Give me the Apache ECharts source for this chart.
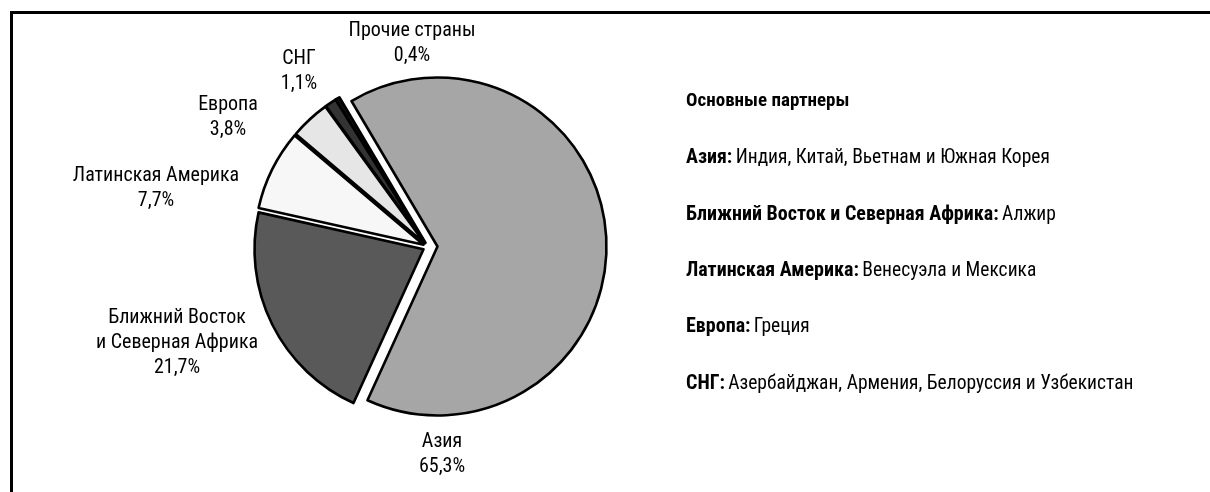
<!DOCTYPE html>
<html>
<head>
<meta charset="utf-8">
<script src="https://cdn.jsdelivr.net/npm/echarts@6/dist/echarts.min.js"></script>
<style>
html,body{margin:0;padding:0;background:#fff;}
#c{width:1210px;height:492px;}
</style>
</head>
<body>
<div id="c"></div>
<script>
// ---- data ----
const categories = ['Азия', 'Ближний Восток\nи Северная Африка', 'Латинская Америка', 'Европа', 'СНГ', 'Прочие страны'];
const shares = [65.3, 21.7, 7.7, 3.8, 1.1, 0.4];
const shareLabels = ['65,3%', '21,7%', '7,7%', '3,8%', '1,1%', '0,4%'];
const partnersTitle = 'Основные партнеры';
const partnerRegions = ['Азия:', 'Ближний Восток и Северная Африка:', 'Латинская Америка:', 'Европа:', 'СНГ:'];
const partnerCountries = ['Индия, Китай, Вьетнам и Южная Корея', 'Алжир', 'Венесуэла и Мексика', 'Греция', 'Азербайджан, Армения, Белоруссия и Узбекистан'];

// ---- styles / layout ----
const FONT = '"Roboto Condensed", "Open Sans Condensed", sans-serif';
const colors = ['#a6a6a6', '#595959', '#f7f7f7', '#e6e6e6', '#333333', '#111111'];
const pieCenter = [428, 247];
const pieRadius = 169;
const startAngle = 120.6;
// label block centres, relative to the pie centre
const labelOffsets = [[14, 207], [-251, 96], [-272, -59], [-200, -130], [-129, -176], [-16, -204]];
const legendX = 686;
const legendY = [101, 158, 215, 271, 327, 384];

const chart = echarts.init(document.getElementById('c'), null, {renderer: 'canvas'});

function pieSeries(visibleSet, offset) {
  return {
    type: 'pie',
    center: pieCenter,
    radius: pieRadius,
    startAngle: startAngle,
    clockwise: true,
    silent: true,
    animation: false,
    selectedMode: 'multiple',
    selectedOffset: offset,
    emphasis: {disabled: true},
    label: {show: false},
    labelLine: {show: false},
    data: shares.map((v, i) => {
      const vis = visibleSet.includes(i);
      return {
        value: v,
        name: categories[i],
        selected: vis,
        itemStyle: vis ? {color: colors[i], borderColor: '#000', borderWidth: 2.6} : {color: 'rgba(0,0,0,0)', borderWidth: 0}
      };
    })
  };
}

const graphics = [
  {type: 'polyline', shape: {points: [[11.5, 492], [11.5, 12.5], [1210, 12.5]]}, style: {stroke: '#000', lineWidth: 3, fill: null}}
];
categories.forEach((c, i) => {
  graphics.push({
    type: 'text',
    x: pieCenter[0] + labelOffsets[i][0],
    y: pieCenter[1] + labelOffsets[i][1],
    style: {
      text: c + '\n' + shareLabels[i],
      font: '20px ' + FONT,
      lineHeight: 25,
      fill: '#000',
      align: 'center',
      verticalAlign: 'middle'
    }
  });
});
graphics.push({type: 'text', x: legendX, y: legendY[0], style: {text: partnersTitle, font: 'bold 19px ' + FONT, fill: '#000', verticalAlign: 'middle'}});
partnerRegions.forEach((r, i) => {
  graphics.push({
    type: 'text', x: legendX, y: legendY[i + 1],
    style: {
      text: '{b|' + r + '} {n|' + partnerCountries[i] + '}',
      verticalAlign: 'middle',
      rich: {
        b: {fontFamily: 'Roboto Condensed', fontWeight: 'bold', fontSize: 20, fill: '#000', verticalAlign: 'middle'},
        n: {fontFamily: 'Roboto Condensed', fontSize: 19.5, fill: '#000', verticalAlign: 'middle'}
      }
    }
  });
});

chart.setOption({
  backgroundColor: '#fff',
  animation: false,
  series: [
    pieSeries([0], 9.5),
    pieSeries([1, 2, 3, 4, 5], 5)
  ],
  graphic: graphics
});
</script>
</body>
</html>
